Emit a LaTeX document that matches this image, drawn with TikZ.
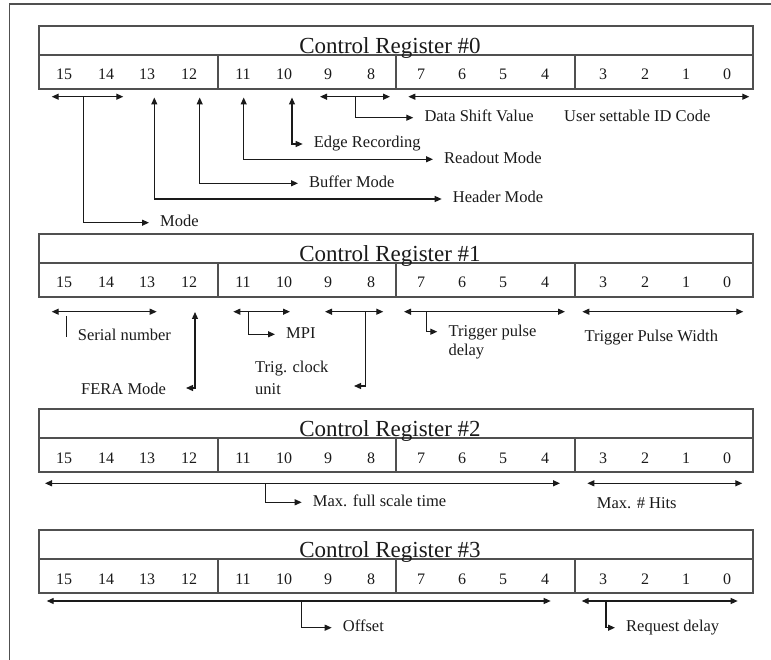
\documentclass[tikz,border=0pt]{standalone}
\usepackage{fontspec}
\setmainfont{Liberation Serif}
\usepackage{tikz}
\usetikzlibrary{arrows.meta}
\definecolor{boxgray}{HTML}{505050}
\definecolor{ink}{HTML}{1A1A1A}
\tikzset{
  outer/.style={draw=boxgray,line width=1.2pt},
  reg/.style={draw=boxgray,line width=1.1pt},
  regtitle/.style={anchor=base,inner sep=0pt,text=ink,font=\fontsize{23}{25}\selectfont},
  bitno/.style={anchor=base,inner sep=0pt,text=ink,font=\fontsize{16}{18}\selectfont},
  lbl/.style={anchor=west,inner xsep=11pt,inner ysep=0pt,text height=8pt,text depth=0pt,
    text=ink,font=\fontsize{16.5}{19}\selectfont},
  txt/.style={anchor=base west,inner sep=0pt,text=ink,font=\fontsize{16.5}{19}\selectfont},
  fl/.style={-{Triangle[length=7pt,width=6pt]},draw=ink,line width=1.2pt},
  rng/.style={{Triangle[length=7pt,width=6pt]}-{Triangle[length=7pt,width=6pt]},draw=ink,line width=1.2pt},
}
\begin{document}
\begin{tikzpicture}[x=1pt,y=-1pt]
  \useasboundingbox (0,0) rectangle (771,660);
  % frame, cut at the right and the bottom
  \coordinate (fbl) at (9.3,660); \coordinate (ftl) at (9.3,4); \coordinate (ftr) at (771,4);
  \draw[outer] (fbl) -- (ftl) -- (ftr);

  % the four registers
  \foreach \r/\t in {0/26,1/234,2/409,3/530}{
    \draw[reg] (39,\t) rectangle (753,\t+63);
    \draw[reg] (39,\t+29) -- (753,\t+29);
    \foreach \x in {218,396,575} \draw[reg] (\x,\t+29) -- (\x,\t+63);
    \node[regtitle] (r\r t) at (390,\t+27.5) {Control Register \#\r};
    \foreach \b/\x in {15/64,14/106,13/147,12/189,11/243,10/284,9/328,8/371,
                       7/421,6/462,5/503,4/545,3/603,2/645,1/686,0/727}
      \node[bitno] (r\r b\b) at (\x,\t+54) {\b};
  }

  % register 0
  \coordinate (m0l) at (51.7,96.7); \coordinate (m0r) at (123.3,96.7); \coordinate (m0) at (83.3,96.7);
  \draw[rng] (m0l) -- (m0r);
  \node[lbl] (mode) at (149,222.7) {Mode};
  \draw[fl] (m0) |- (mode.west);
  \coordinate (h0) at (154.3,97.5);
  \node[lbl] (hdr) at (441.7,199) {Header Mode};
  \draw[rng] (hdr.west) -| (h0);
  \coordinate (u0) at (199.7,97.5);
  \node[lbl] (buf) at (298,183.3) {Buffer Mode};
  \draw[rng] (buf.west) -| (u0);
  \coordinate (o0) at (243.7,97.5);
  \node[lbl] (rdo) at (433,159.3) {Readout Mode};
  \draw[rng] (rdo.west) -| (o0);
  \coordinate (e0) at (292,97.5);
  \node[lbl] (edg) at (302.7,144) {Edge Recording};
  \draw[rng] (edg.west) -| (e0);
  \coordinate (d0l) at (320,96.7); \coordinate (d0r) at (390,96.7); \coordinate (d0) at (355.7,96.7);
  \draw[rng] (d0l) -- (d0r);
  \node[lbl] (dsv) at (413.3,117.7) {Data Shift Value};
  \draw[fl] (d0) |- (dsv.west);
  \coordinate (i0l) at (408.3,96.7); \coordinate (i0r) at (749.3,96.7);
  \draw[rng] (i0l) -- (i0r);
  \node[txt] (uid) at (564,121.7) {User settable ID Code};

  % register 1
  \coordinate (s1l) at (51.7,311.7); \coordinate (s1r) at (156.7,311.7);
  \draw[rng] (s1l) -- (s1r);
  \coordinate (s1a) at (66.7,316); \coordinate (s1b) at (66.7,336.7);
  \draw[draw=ink,line width=1.2pt] (s1a) -- (s1b);
  \node[txt] (ser) at (77.7,340.7) {Serial number};
  \coordinate (f1) at (195,312); \coordinate (f1t) at (186,388);
  \draw[rng] (f1) |- (f1t);
  \node[txt] (fera) at (81,394) {FERA Mode};
  \coordinate (p1l) at (233.3,311.7); \coordinate (p1r) at (290,311.7); \coordinate (p1) at (248.3,311.7);
  \draw[rng] (p1l) -- (p1r);
  \node[lbl] (mpi) at (275,334.3) {MPI};
  \draw[fl] (p1) |- (mpi.west);
  \coordinate (c1l) at (325,311.7); \coordinate (c1r) at (383.3,311.7); \coordinate (c1) at (365.7,311.7);
  \coordinate (c1t) at (354,386);
  \draw[rng] (c1l) -- (c1r);
  \draw[fl] (c1) |- (c1t);
  \node[txt,align=left] (clk) at (255,394) {Trig. clock\\[3pt]unit};
  \coordinate (q1l) at (404,311.7); \coordinate (q1r) at (565,311.7); \coordinate (q1) at (426.7,311.7);
  \coordinate (q1t) at (437.3,331.7);
  \draw[rng] (q1l) -- (q1r);
  \draw[fl] (q1) |- (q1t);
  \node[txt,align=left] (tpd) at (448.3,355.7) {Trigger pulse\\delay};
  \coordinate (w1l) at (582.3,311.7); \coordinate (w1r) at (743.3,311.7);
  \draw[rng] (w1l) -- (w1r);
  \node[txt] (tpw) at (584.3,341.7) {Trigger Pulse Width};

  % register 2
  \coordinate (x2l) at (45,483.3); \coordinate (x2r) at (560,483.3); \coordinate (x2) at (265.7,483.3);
  \draw[rng] (x2l) -- (x2r);
  \node[lbl] (mfs) at (301.7,502.3) {Max. full scale time};
  \draw[fl] (x2) |- (mfs.west);
  \coordinate (n2l) at (587.3,483.3); \coordinate (n2r) at (742.3,483.3);
  \draw[rng] (n2l) -- (n2r);
  \node[txt] (hits) at (596.7,508.3) {Max. \# Hits};

  % register 3
  \coordinate (z3l) at (46.7,601); \coordinate (z3r) at (550.7,601); \coordinate (z3) at (301.7,601);
  \draw[rng] (z3l) -- (z3r);
  \node[lbl] (off) at (331.7,627.7) {Offset};
  \draw[fl] (z3) |- (off.west);
  \coordinate (y3l) at (581.7,601); \coordinate (y3r) at (737.7,601); \coordinate (y3) at (606,601);
  \draw[rng] (y3l) -- (y3r);
  \node[lbl] (rqd) at (615,627.7) {Request delay};
  \draw[fl] (y3) |- (rqd.west);
\end{tikzpicture}
\end{document}
